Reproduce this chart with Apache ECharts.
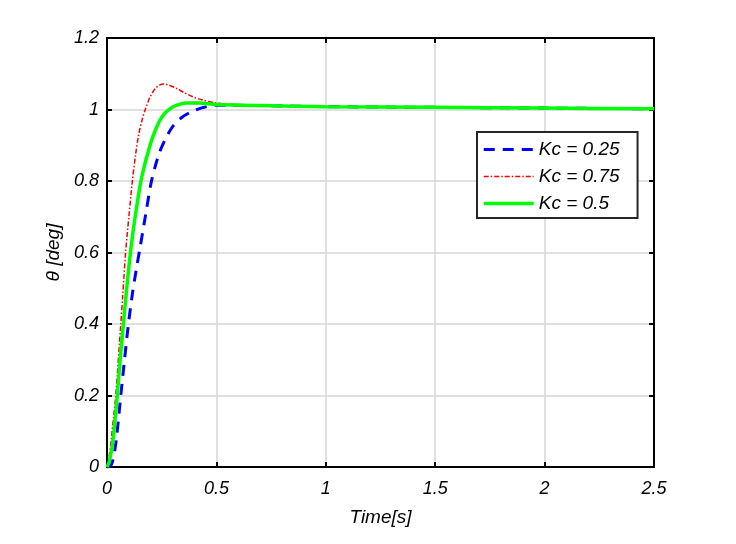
<!DOCTYPE html>
<html>
<head>
<meta charset="utf-8">
<script src="https://cdn.jsdelivr.net/npm/echarts@6/dist/echarts.min.js"></script>
<style>html,body{margin:0;padding:0;background:#fff}#c{width:736px;height:544px}</style>
</head>
<body>
<div id="c"></div>
<script>
// Kc = 0.25 (blue dashed)
var tB = [0, 0.015, 0.025, 0.035, 0.044, 0.063, 0.08, 0.096, 0.115, 0.133, 0.15, 0.175, 0.2, 0.22, 0.24, 0.265, 0.3, 0.34, 0.394, 0.456, 0.5, 0.7, 1.0, 1.5, 2.0, 2.5];
var yB = [0, 0.002, 0.015, 0.045, 0.084, 0.2, 0.3, 0.39, 0.48, 0.55, 0.61, 0.7, 0.79, 0.84, 0.88, 0.915, 0.952, 0.977, 0.996, 1.008, 1.012, 1.011, 1.008, 1.006, 1.004, 1.002];
// Kc = 0.75 (red dash-dot)
var tR = [0, 0.01, 0.02, 0.03, 0.04, 0.063, 0.072, 0.085, 0.1, 0.116, 0.131, 0.145, 0.16, 0.175, 0.197, 0.22, 0.24, 0.26, 0.28, 0.318, 0.35, 0.395, 0.44, 0.49, 0.6, 0.8, 1.0, 1.5, 2.0, 2.5];
var yR = [0, 0.03, 0.08, 0.14, 0.2, 0.4, 0.48, 0.6, 0.7, 0.8, 0.875, 0.93, 0.97, 1.0, 1.035, 1.058, 1.068, 1.071, 1.069, 1.059, 1.048, 1.035, 1.026, 1.019, 1.013, 1.010, 1.008, 1.006, 1.004, 1.002];
// Kc = 0.5 (green solid)
var tG = [0, 0.01, 0.023, 0.035, 0.047, 0.06, 0.075, 0.087, 0.1, 0.115, 0.13, 0.152, 0.17, 0.186, 0.21, 0.24, 0.265, 0.29, 0.32, 0.36, 0.42, 0.5, 0.7, 1.0, 1.5, 2.0, 2.5];
var yG = [0, 0.015, 0.055, 0.12, 0.2, 0.3, 0.4, 0.48, 0.56, 0.64, 0.705, 0.79, 0.84, 0.877, 0.925, 0.968, 0.99, 1.003, 1.012, 1.018, 1.018, 1.014, 1.011, 1.008, 1.006, 1.004, 1.002];

var seriesNames = ['Kc = 0.25', 'Kc = 0.75', 'Kc = 0.5'];

function pairs(t, y) { return t.map(function (v, i) { return [v, y[i]]; }); }

var font = 'Liberation Sans, Arial, sans-serif';
var chart = echarts.init(document.getElementById('c'));
var axisCommon = {
  axisLine: { show: true, onZero: false, lineStyle: { color: '#000', width: 2 } },
  axisTick: { show: true, inside: true, length: 5, lineStyle: { color: '#000', width: 2 } }
};
chart.setOption({
  backgroundColor: '#fff',
  animation: false,
  grid: { left: 107, right: 82, top: 38, bottom: 77 },
  legend: {
    orient: 'vertical', left: 477, top: 132,
    data: [
      { name: seriesNames[0], lineStyle: { width: 3 } },
      { name: seriesNames[1], lineStyle: { width: 1.5 } },
      { name: seriesNames[2], lineStyle: { width: 3.5 } }
    ],
    itemWidth: 50, itemHeight: 14, itemGap: 8,
    padding: [8, 18, 5, 5],
    itemStyle: { opacity: 0, borderWidth: 0 },
    borderColor: '#262626', borderWidth: 2, backgroundColor: '#fff',
    textStyle: { fontFamily: font, fontStyle: 'italic', fontSize: 19, color: '#000' }
  },
  xAxis: [
    Object.assign({
      type: 'value', min: 0, max: 2.5, interval: 0.5,
      name: 'Time[s]', nameLocation: 'middle', nameGap: 41,
      nameTextStyle: { fontFamily: font, fontStyle: 'italic', fontSize: 19, color: '#000' },
      axisLabel: { margin: 13, fontFamily: font, fontStyle: 'italic', fontSize: 18, color: '#000' },
      splitLine: { show: true, lineStyle: { color: '#d6d6d6', width: 1.5 } }
    }, axisCommon),
    Object.assign({
      type: 'value', position: 'top', min: 0, max: 2.5, interval: 0.5,
      axisLabel: { show: false }, splitLine: { show: false }
    }, axisCommon)
  ],
  yAxis: [
    Object.assign({
      type: 'value', min: 0, max: 1.2, interval: 0.2,
      name: 'θ [deg]', nameLocation: 'middle', nameGap: 41, nameRotate: 90,
      nameTextStyle: { fontFamily: font, fontStyle: 'italic', fontSize: 19, color: '#000' },
      axisLabel: { margin: 8, fontFamily: font, fontStyle: 'italic', fontSize: 18, color: '#000' },
      splitLine: { show: true, lineStyle: { color: '#d6d6d6', width: 1.5 } }
    }, axisCommon),
    Object.assign({
      type: 'value', position: 'right', min: 0, max: 1.2, interval: 0.2,
      axisLabel: { show: false }, splitLine: { show: false }
    }, axisCommon)
  ],
  series: [
    { name: seriesNames[0], type: 'line', data: pairs(tB, yB), showSymbol: false, symbol: 'none', smooth: 0.3,
      lineStyle: { color: '#0000ff', width: 3, type: [11, 8] }, itemStyle: { color: '#0000ff' }, z: 2 },
    { name: seriesNames[1], type: 'line', data: pairs(tR, yR), showSymbol: false, symbol: 'none', smooth: 0.3,
      lineStyle: { color: '#ff0000', width: 1.5, type: [5, 2, 1.5, 2] }, itemStyle: { color: '#ff0000' }, z: 3 },
    { name: seriesNames[2], type: 'line', data: pairs(tG, yG), showSymbol: false, symbol: 'none', smooth: 0.3,
      lineStyle: { color: '#00ff00', width: 3.5 }, itemStyle: { color: '#00ff00' }, z: 4 }
  ]
});
</script>
</body>
</html>
